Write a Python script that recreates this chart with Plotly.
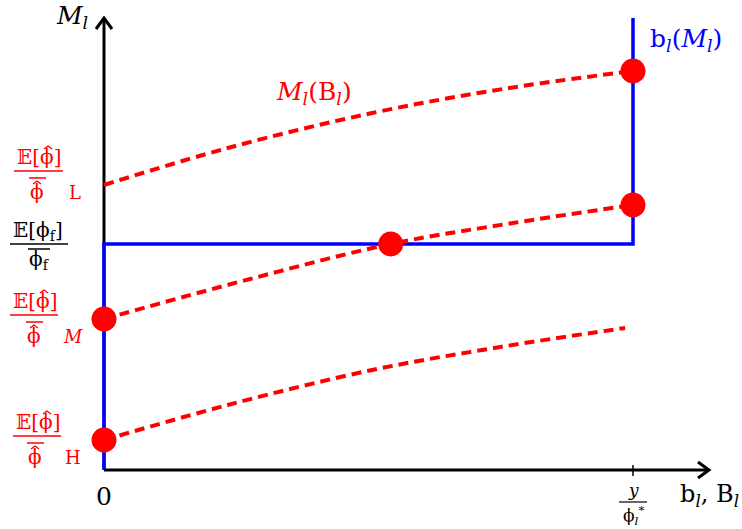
import plotly.graph_objects as go

# Curve samples (x in units of y/phi*, y in arbitrary money units)
l_x = [0.0, 0.234, 0.507, 0.754, 1.0]
l_y = [2.85, 3.22, 3.57, 3.81, 3.99]

m_x = [0.0, 0.276, 0.542, 0.773, 1.0]
m_y = [1.51, 1.91, 2.26, 2.47, 2.65]

h_x = [0.0, 0.234, 0.507, 0.749, 0.985]
h_y = [0.30, 0.65, 1.00, 1.23, 1.42]

# Best response b_l(M_l): zero up to the fair level, then the upper bound
fair_level = 2.26
b_x = [0.0, 0.0, 1.0, 1.0]
b_y = [0.0, fair_level, fair_level, 4.52]

# Highlighted points
dot_x = [l_x[-1], m_x[0], m_x[2], m_x[-1], h_x[0]]
dot_y = [l_y[-1], m_y[0], m_y[2], m_y[-1], h_y[0]]

RED = "#ff0000"
BLUE = "#0000ff"
FONT = "DejaVu Serif, serif"

# pixel -> data helpers for the fixed 742x529 canvas
X0, SX = 104.0, 529.0
Y0, SY = 470.0, 100.0


def dx(px):
    return (px - X0) / SX


def dy(py):
    return (Y0 - py) / SY


fig = go.Figure()

fig.add_trace(go.Scatter(x=b_x, y=b_y, mode="lines",
                         line=dict(color=BLUE, width=3.5), hoverinfo="skip"))
for xs, ys in [(l_x, l_y), (m_x, m_y), (h_x, h_y)]:
    fig.add_trace(go.Scatter(x=xs, y=ys, mode="lines",
                             line=dict(color=RED, width=4, dash="10px,6px", shape="spline"),
                             hoverinfo="skip"))
fig.add_trace(go.Scatter(x=dot_x, y=dot_y, mode="markers",
                         marker=dict(color=RED, size=25, line=dict(width=0))))

shapes = []
# axes
shapes.append(dict(type="line", xref="x", yref="y", x0=0, y0=0, x1=0, y1=dy(18),
                   line=dict(color="black", width=3), layer="below"))
shapes.append(dict(type="line", xref="x", yref="y", x0=0, y0=0, x1=dx(708), y1=0,
                   line=dict(color="black", width=3), layer="below"))
# arrow heads
shapes.append(dict(type="path", xref="x", yref="y",
                   path=f"M {dx(96)} {dy(29)} L {dx(104)} {dy(18)} L {dx(112)} {dy(29)}",
                   line=dict(color="black", width=3)))
shapes.append(dict(type="path", xref="x", yref="y",
                   path=f"M {dx(698)} {dy(462)} L {dx(709)} {dy(470)} L {dx(698)} {dy(478)}",
                   line=dict(color="black", width=3)))
# tick at y/phi*
shapes.append(dict(type="line", xref="x", yref="y", x0=1, y0=dy(465), x1=1, y1=dy(476),
                   line=dict(color="black", width=1.5)))

annotations = []


def text(px, py, s, color="black", size=22, xanchor="center"):
    annotations.append(dict(x=dx(px), y=dy(py), xref="x", yref="y", text=s, showarrow=False,
                            xanchor=xanchor, yanchor="middle",
                            font=dict(family=FONT, size=size, color=color)))


def hline(px0, px1, py, color, width=1.5):
    shapes.append(dict(type="line", xref="x", yref="y", x0=dx(px0), x1=dx(px1),
                       y0=dy(py), y1=dy(py), line=dict(color=color, width=width)))


def hat(cx, py, color):
    shapes.append(dict(type="path", xref="x", yref="y",
                       path=f"M {dx(cx - 4)} {dy(py + 3)} L {dx(cx)} {dy(py)} L {dx(cx + 4)} {dy(py + 3)}",
                       line=dict(color=color, width=1.3)))


def frac_label(cx, top, bar_l, bar_r, sub, sub_x, color):
    # numerator E[phi-hat]
    text(bar_l + 1, top, "𝔼[ϕ]", color, 20, xanchor="left")
    hat(bar_l + 34, top - 11, color)
    hline(bar_l, bar_r, top + 14, color)
    # denominator: phi-hat with a bar
    hline(cx - 8, cx + 9, top + 21, color)
    hat(cx, top + 24, color)
    text(cx, top + 35, "ϕ", color, 20)
    text(sub_x, top + 35, sub, color, 18)


frac_label(37, 157, 14, 63, "L", 75, RED)
frac_label(34, 301, 10, 58, "<i>M</i>", 73, RED)
frac_label(35, 422, 13, 61, "H", 73, RED)

# fair-type label
text(38, 231, "𝔼[ϕ<sub>f</sub>]", "black", 20)
hline(10, 68, 244, "black")
hline(28, 50, 249, "black")
text(39, 260, "ϕ<sub>f</sub>", "black", 20)

# axis labels
text(72, 17, "<i>M</i><sub><i>l</i></sub>", "black", 25)
text(104, 496, "0", "black", 25)
text(633, 490, "<i>y</i>", "black", 17)
hline(619, 647, 502, "black", 1.2)
text(633, 515, "ϕ<sub><i>l</i></sub><sup>*</sup>", "black", 17)
text(709, 495, "b<sub><i>l</i></sub>, B<sub><i>l</i></sub>", "black", 24)

# curve labels
text(686, 40, "b<sub><i>l</i></sub>(<i>M</i><sub><i>l</i></sub>)", BLUE, 25)
text(314, 93, "<i>M</i><sub><i>l</i></sub>(B<sub><i>l</i></sub>)", RED, 25)

fig.update_layout(
    width=742, height=529,
    margin=dict(l=0, r=0, t=0, b=0),
    paper_bgcolor="white", plot_bgcolor="white",
    showlegend=False,
    xaxis=dict(range=[dx(0), dx(742)], visible=False, fixedrange=True),
    yaxis=dict(range=[dy(529), dy(0)], visible=False, fixedrange=True),
    shapes=shapes,
    annotations=annotations,
)

fig.write_html("out.html")
